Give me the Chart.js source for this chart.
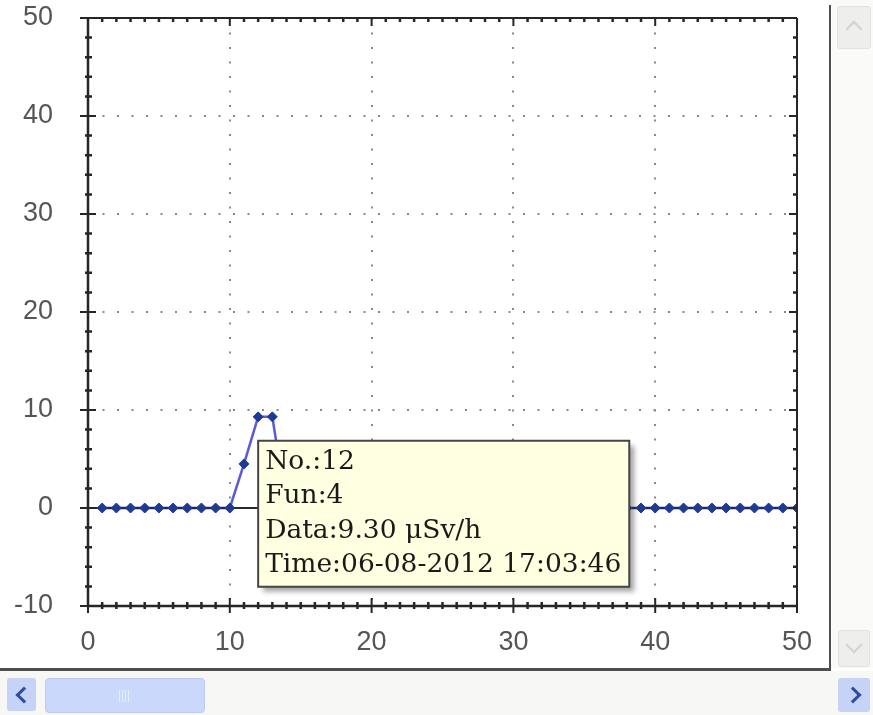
<!DOCTYPE html>
<html>
<head>
<meta charset="utf-8">
<script src="https://cdn.jsdelivr.net/npm/chart.js@4"></script>
<style>
  html, body { margin: 0; padding: 0; background: #ffffff; }
  body { width: 873px; height: 715px; overflow: hidden; position: relative; }
  #wrap { position: absolute; left: 0; top: 0; width: 829px; height: 668px; }
  .abs { position: absolute; }
  #vline { left: 829px; top: 5px; width: 2px; height: 666px; background: #4e4e4e; }
  #hline { left: 0; top: 668px; width: 831px; height: 3px; background: #4e4e4e; }
  #rtrack { left: 832px; top: 0; width: 41px; height: 668px; background: #fafaf8; }
  #btrack { left: 0; top: 671px; width: 873px; height: 44px; background: #f7f7f5; }
  .vbtn { background: #eeeeec; border: 1px solid #e2e2e0; border-radius: 3px; }
  .hbtn { background: #c4d3f6; border-radius: 3px; }
  .chev { position: absolute; width: 9px; height: 9px; border-left: 3px solid #2f4c9e; border-bottom: 3px solid #2f4c9e; }
  .chevg { position: absolute; width: 10px; height: 10px; border-left: 2px solid #d2d2d0; border-top: 2px solid #d2d2d0; }
  #thumb { left: 45px; top: 678px; width: 158px; height: 33px; background: #cad8fb; border: 1px solid #bccbf2; border-radius: 4px; }
  .grip { position: absolute; top: 11px; width: 1px; height: 12px; background: #e6edff; }
</style>
</head>
<body>
<div id="wrap"><canvas id="c" width="829" height="668"></canvas></div>
<div id="rtrack" class="abs"></div>
<div id="btrack" class="abs"></div>
<div id="vline" class="abs"></div>
<div id="hline" class="abs"></div>
<div class="abs vbtn" style="left:837px;top:6px;width:32px;height:41px;"><div class="chevg" style="left:10px;top:16px;transform:rotate(45deg);"></div></div>
<div class="abs vbtn" style="left:838px;top:630px;width:30px;height:35px;"><div class="chevg" style="left:9px;top:8px;transform:rotate(225deg);"></div></div>
<div class="abs hbtn" style="left:7px;top:678px;width:29px;height:33px;"><div class="chev" style="left:11px;top:11px;transform:rotate(45deg);"></div></div>
<div id="thumb" class="abs">
  <div class="grip" style="left:73px;"></div><div class="grip" style="left:76px;"></div><div class="grip" style="left:79px;"></div><div class="grip" style="left:82px;"></div>
</div>
<div class="abs hbtn" style="left:838px;top:678px;width:32px;height:34px;"><div class="chev" style="left:9px;top:11px;transform:rotate(225deg);"></div></div>
<script>
// ---- data ----
const xValues = [1,2,3,4,5,6,7,8,9,10,11,12,13,14,15,16,17,18,19,20,21,22,23,24,25,26,27,28,29,30,31,32,33,34,35,36,37,38,39,40,41,42,43,44,45,46,47,48,49,50];
const yValues = [0,0,0,0,0,0,0,0,0,0,4.5,9.3,9.3,0,0,0,0,0,0,0,0,0,0,0,0,0,0,0,0,0,0,0,0,0,0,0,0,0,0,0,0,0,0,0,0,0,0,0,0,0];
const xTicks = [0,10,20,30,40,50];
const yTicks = [-10,0,10,20,30,40,50];
const zeroLineX = [0, 50];
const zeroLineY = [0, 0];
const tooltipNo = 12;
const tooltipLines = ["No.:12", "Fun:4", "Data:9.30 \u03bcSv/h", "Time:06-08-2012 17:03:46"];

const xMin = xTicks[0], xMax = xTicks[xTicks.length - 1];
const yMin = yTicks[0], yMax = yTicks[yTicks.length - 1];

Chart.Tooltip.positioners.anchorBelow = function(items) {
  if (!items.length) return false;
  const el = items[0].element;
  return { x: el.x, y: el.y + 24, xAlign: 'left', yAlign: 'top' };
};

const frameTicks = {
  id: 'frameTicks',
  afterDatasetsDraw(chart) {
    const ctx = chart.ctx, a = chart.chartArea;
    const xs = chart.scales.x, ys = chart.scales.y;
    ctx.save();
    ctx.strokeStyle = '#262626';
    ctx.lineWidth = 2;
    ctx.beginPath();
    ctx.moveTo(a.left, a.top); ctx.lineTo(a.right, a.top);
    ctx.moveTo(a.right, a.top); ctx.lineTo(a.right, a.bottom);
    ctx.stroke();
    ctx.lineWidth = 2.5;
    ctx.beginPath();
    ctx.moveTo(a.left, a.top - 1); ctx.lineTo(a.left, a.bottom);
    ctx.lineTo(a.right + 1, a.bottom);
    ctx.stroke();
    for (let v = xs.min; v <= xs.max + 1e-9; v += 1) {
      const px = xs.getPixelForValue(v);
      const major = Math.abs(v % 10) < 1e-9;
      ctx.lineWidth = major ? 2 : 2.5;
      ctx.beginPath();
      ctx.moveTo(px, a.bottom - (major ? 8 : 4)); ctx.lineTo(px, a.bottom + (major ? 7 : 3));
      ctx.moveTo(px, a.top); ctx.lineTo(px, a.top + (major ? 8 : 4));
      ctx.stroke();
    }
    for (let v = ys.min; v <= ys.max + 1e-9; v += 2) {
      const py = ys.getPixelForValue(v);
      const major = Math.abs(v % 10) < 1e-9;
      ctx.lineWidth = major ? 2 : 2.5;
      ctx.beginPath();
      ctx.moveTo(a.left - (major ? 8 : 3), py); ctx.lineTo(a.left + (major ? 8 : 4), py);
      ctx.moveTo(a.right - (major ? 8 : 4), py); ctx.lineTo(a.right, py);
      ctx.stroke();
    }
    ctx.restore();
  },
  beforeTooltipDraw(chart, args) {
    const t = args.tooltip;
    if (!t || !t.opacity) return;
    const ctx = chart.ctx;
    ctx.save();
    ctx.fillStyle = 'rgba(60,60,60,0.45)';
    ctx.filter = 'blur(2.5px)';
    ctx.fillRect(t.x + 5, t.y + 5, t.width, t.height);
    ctx.restore();
  }
};

const points = xValues.map((x, i) => ({ x: x, y: yValues[i] }));
const zeroPts = zeroLineX.map((x, i) => ({ x: x, y: zeroLineY[i] }));

const gridColor = (c) => (c.tick && c.tick.value > c.scale.min && c.tick.value < c.scale.max) ? '#8a8a8a' : 'rgba(0,0,0,0)';
const tickFont = { family: "'Liberation Sans', Arial, sans-serif", size: 27 };

const chart = new Chart(document.getElementById('c'), {
  type: 'line',
  data: {
    datasets: [
      {
        data: points,
        borderColor: '#5b5bd9',
        borderWidth: 2.5,
        pointStyle: 'rectRot',
        pointRadius: 5,
        pointBackgroundColor: '#1f3a92',
        pointBorderColor: '#1f3a92',
        pointBorderWidth: 1,
        tension: 0,
        segment: {
          borderColor: (s) => (s.p0.parsed.y === 0 && s.p1.parsed.y === 0) ? '#1d2668' : undefined
        }
      },
      {
        data: zeroPts,
        borderColor: '#2a2a2a',
        borderWidth: 2,
        pointRadius: 0,
        tension: 0
      }
    ]
  },
  options: {
    responsive: false,
    animation: false,
    events: [],
    layout: { padding: { left: 0, right: 32, top: 18, bottom: 0 } },
    scales: {
      x: {
        type: 'linear', min: xMin, max: xMax,
        afterFit: (s) => { s.height = 62; s.paddingLeft = 0; s.paddingRight = 0; },
        afterBuildTicks: (s) => { s.ticks = xTicks.map(v => ({ value: v })); },
        ticks: { stepSize: 10, padding: 20, color: '#555', font: tickFont },
        grid: { color: gridColor, lineWidth: 2, drawTicks: false },
        border: { display: false, dash: [2, 12.5] }
      },
      y: {
        type: 'linear', min: yMin, max: yMax,
        afterFit: (s) => { s.width = 88; s.paddingTop = 0; s.paddingBottom = 0; },
        afterBuildTicks: (s) => { s.ticks = yTicks.map(v => ({ value: v })); },
        ticks: { stepSize: 10, padding: 35, color: '#555', font: tickFont },
        grid: { color: gridColor, lineWidth: 2, drawTicks: false },
        border: { display: false, dash: [2, 12.5] }
      }
    },
    plugins: {
      legend: { display: false },
      title: { display: false },
      tooltip: {
        enabled: true,
        animation: false,
        position: 'anchorBelow',
        xAlign: 'left', yAlign: 'top',
        caretSize: 0, caretPadding: 0, cornerRadius: 0,
        displayColors: false,
        backgroundColor: '#ffffe1',
        borderColor: '#454545',
        borderWidth: 2,
        bodyColor: '#1a1a1a',
        bodyFont: { family: "'DejaVu Serif', 'Liberation Serif', serif", size: 26.5, lineHeight: 1.3 },
        bodySpacing: 0,
        padding: { left: 7, right: 8, top: 4, bottom: 4 },
        filter: (item) => item.datasetIndex === 0,
        callbacks: {
          title: () => '',
          label: () => tooltipLines
        }
      }
    }
  },
  plugins: [frameTicks]
});

const idx = xValues.indexOf(tooltipNo);
const el = chart.getDatasetMeta(0).data[idx];
chart.tooltip.setActiveElements([{ datasetIndex: 0, index: idx }], { x: el.x, y: el.y });
chart.draw();
</script>
</body>
</html>
